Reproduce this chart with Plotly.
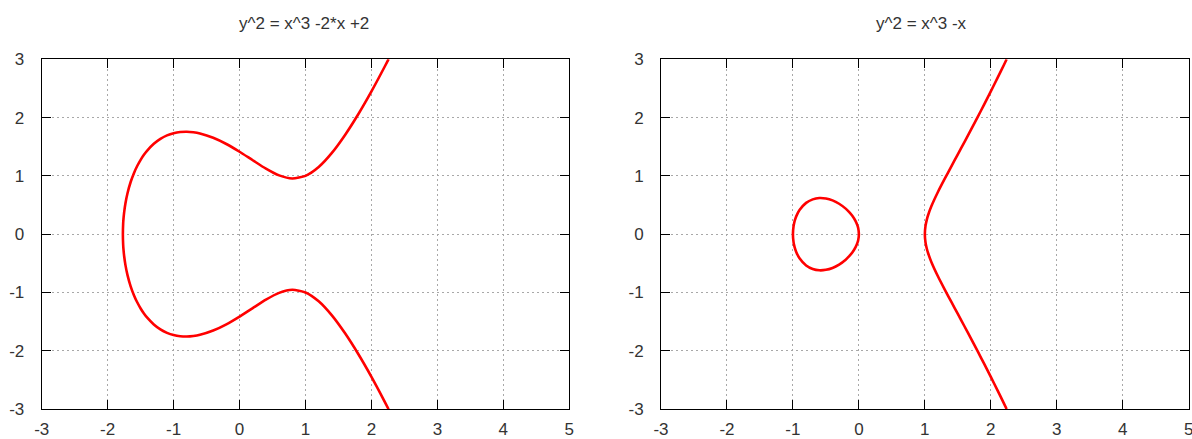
import plotly.graph_objects as go

# ---- data ----
# left: y^2 = x^3 -2*x +2
left_x = [-1.769, -1.765, -1.76, -1.75, -1.73, -1.7, -1.65, -1.6, -1.55, -1.5, -1.45, -1.4,
          -1.3, -1.2, -1.1, -1.0, -0.9, -0.8, -0.7, -0.6, -0.4, -0.2, 0.0, 0.2, 0.4, 0.6,
          0.8, 1.0, 1.2, 1.4, 1.6, 1.8, 2.0, 2.2, 2.26]
left_y_upper = [0.0, 0.177, 0.261, 0.375, 0.531, 0.698, 0.899, 1.051, 1.173, 1.275, 1.361,
                1.434, 1.550, 1.635, 1.694, 1.732, 1.752, 1.757, 1.748, 1.727, 1.654, 1.547,
                1.414, 1.268, 1.124, 1.008, 0.955, 1.0, 1.152, 1.394, 1.702, 2.057, 2.449,
                2.872, 3.004]
left_y_lower = [0.0, -0.177, -0.261, -0.375, -0.531, -0.698, -0.899, -1.051, -1.173, -1.275,
                -1.361, -1.434, -1.550, -1.635, -1.694, -1.732, -1.752, -1.757, -1.748,
                -1.727, -1.654, -1.547, -1.414, -1.268, -1.124, -1.008, -0.955, -1.0,
                -1.152, -1.394, -1.702, -2.057, -2.449, -2.872, -3.004]

# right: y^2 = x^3 -x  (oval)
oval_x = [-1.0, -0.99, -0.98, -0.97, -0.95, -0.9, -0.8, -0.7, -0.6, -0.5, -0.4, -0.3,
          -0.2, -0.15, -0.1, -0.05, -0.02, -0.01, 0.0]
oval_y_upper = [0.0, 0.140, 0.197, 0.239, 0.305, 0.414, 0.537, 0.597, 0.620, 0.612, 0.580,
                0.522, 0.438, 0.383, 0.315, 0.223, 0.141, 0.100, 0.0]
oval_y_lower = [0.0, -0.140, -0.197, -0.239, -0.305, -0.414, -0.537, -0.597, -0.620,
                -0.612, -0.580, -0.522, -0.438, -0.383, -0.315, -0.223, -0.141, -0.100, 0.0]

# right: y^2 = x^3 -x  (open branch)
branch_x = [1.0, 1.01, 1.03, 1.05, 1.1, 1.2, 1.3, 1.4, 1.5, 1.6, 1.7, 1.8, 1.9, 2.0,
            2.1, 2.2, 2.24]
branch_y_upper = [0.0, 0.1425, 0.250, 0.328, 0.481, 0.727, 0.947, 1.159, 1.369, 1.580,
                  1.792, 2.008, 2.227, 2.449, 2.676, 2.907, 3.0]
branch_y_lower = [0.0, -0.1425, -0.250, -0.328, -0.481, -0.727, -0.947, -1.159, -1.369,
                  -1.580, -1.792, -2.008, -2.227, -2.449, -2.676, -2.907, -3.0]

x_ticks = [-3, -2, -1, 0, 1, 2, 3, 4, 5]
y_ticks = [-3, -2, -1, 0, 1, 2, 3]
titles = ["y^2 = x^3 -2*x +2", "y^2 = x^3 -x"]

W, H = 1192, 439
FONT = "Liberation Sans, Arial, sans-serif"
TXT = "#333333"
RED = "#ff0000"

fig = go.Figure()

line = dict(color=RED, width=2.6, shape="spline", smoothing=0.6)

fig.add_trace(go.Scatter(x=left_x[::-1] + left_x[1:],
                         y=left_y_lower[::-1] + left_y_upper[1:],
                         mode="lines", line=line, xaxis="x", yaxis="y",
                         showlegend=False, hoverinfo="skip"))
fig.add_trace(go.Scatter(x=oval_x + oval_x[::-1][1:],
                         y=oval_y_upper + oval_y_lower[::-1][1:],
                         mode="lines", line=line, xaxis="x2", yaxis="y2",
                         showlegend=False, hoverinfo="skip"))
fig.add_trace(go.Scatter(x=branch_x[::-1] + branch_x[1:],
                         y=branch_y_lower[::-1] + branch_y_upper[1:],
                         mode="lines", line=line, xaxis="x2", yaxis="y2",
                         showlegend=False, hoverinfo="skip"))

dom_left = [41.7 / W, 569.3 / W]
dom_right = [661.0 / W, 1188.7 / W]
dom_y = [1 - 409.0 / H, 1 - 59.3 / H]

def xaxis(domain, anchor):
    return dict(domain=domain, anchor=anchor, range=[-3, 5], tickmode="array",
                tickvals=x_ticks, ticktext=[str(v) for v in x_ticks],
                ticks="inside", ticklen=9, tickwidth=1, tickcolor="black",
                mirror="ticks", showline=True, linecolor="black", linewidth=1,
                showgrid=True, gridcolor="#a8a8a8", gridwidth=1, griddash="2px,3px",
                zeroline=False, ticklabelstandoff=5, automargin=False,
                ticklabeloverflow="allow",
                tickfont=dict(family=FONT, size=17, color=TXT))

def yaxis(domain, anchor):
    return dict(domain=domain, anchor=anchor, range=[-3, 3], tickmode="array",
                tickvals=y_ticks, ticktext=[str(v) for v in y_ticks],
                ticks="inside", ticklen=9, tickwidth=1, tickcolor="black",
                mirror="ticks", showline=True, linecolor="black", linewidth=1,
                showgrid=True, gridcolor="#a8a8a8", gridwidth=1, griddash="2px,3px",
                zeroline=False, ticklabelstandoff=13, automargin=False,
                tickfont=dict(family=FONT, size=17, color=TXT))

fig.update_layout(
    width=W, height=H,
    margin=dict(l=0, r=0, t=0, b=0),
    paper_bgcolor="white", plot_bgcolor="white",
    xaxis=xaxis(dom_left, "y"), yaxis=yaxis(dom_y, "x"),
    xaxis2=xaxis(dom_right, "y2"), yaxis2=yaxis(dom_y, "x2"),
    showlegend=False,
)

for cx, t in zip([303.5 / W, 921.0 / W], titles):
    fig.add_annotation(x=cx, y=1 - 24.0 / H, xref="paper", yref="paper",
                       text=t, showarrow=False, xanchor="center", yanchor="middle",
                       font=dict(family=FONT, size=17, color=TXT))

fig.write_html("out.html",
               config={"displayModeBar": False},
               post_script="document.body.style.margin='0';document.body.style.overflow='hidden';")
